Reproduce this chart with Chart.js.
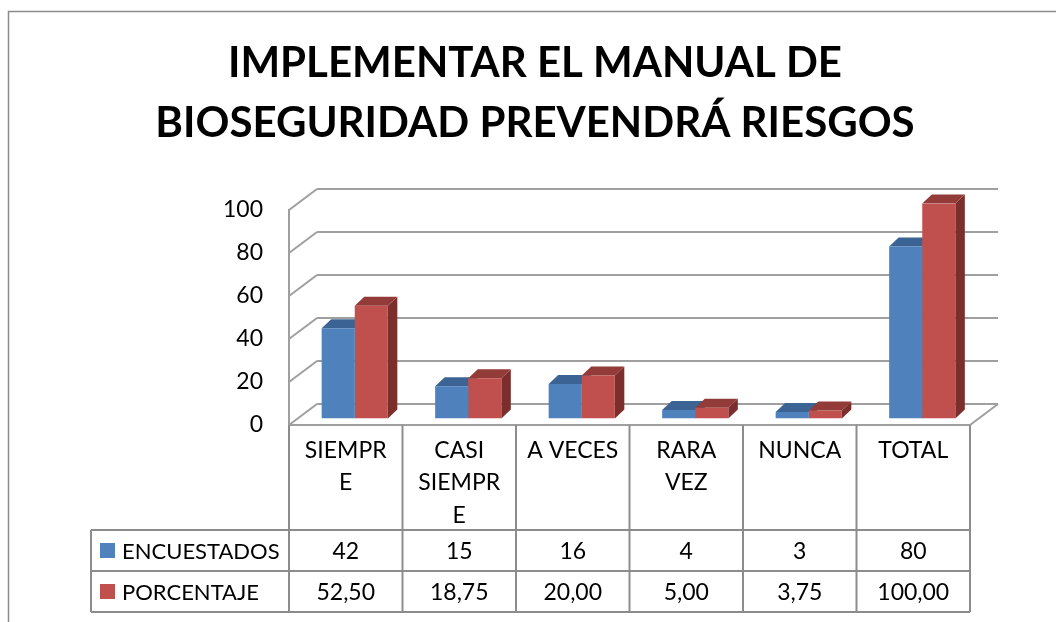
<!DOCTYPE html>
<html>
<head>
<meta charset="utf-8">
<script src="https://cdn.jsdelivr.net/npm/chart.js@4.4.1/dist/chart.umd.min.js"></script>
<style>
  html, body { margin: 0; padding: 0; background: #fff; }
  #wrap { width: 1056px; height: 622px; }
</style>
</head>
<body>
<div id="wrap"><canvas id="bioChart" width="1056" height="622"></canvas></div>
<script>
// datos
const titleLines = ["IMPLEMENTAR EL MANUAL DE", "BIOSEGURIDAD PREVENDRÁ RIESGOS"];
const categoryLabels = [["SIEMPR", "E"], ["CASI", "SIEMPR", "E"], ["A VECES"], ["RARA", "VEZ"], ["NUNCA"], ["TOTAL"]];
const seriesNames = ["ENCUESTADOS", "PORCENTAJE"];
const encuestados = [42, 15, 16, 4, 3, 80];
const porcentaje = [52.5, 18.75, 20, 5, 3.75, 100];
const yTicks = [0, 20, 40, 60, 80, 100];

// estilo
const FONT = 'Lato, "Open Sans", sans-serif';
const WALL = { dx: 28, dy: -21 };       // profundidad de las paredes
const BAR_SHIFT = { dx: 9, dy: -6.5 };  // cara frontal de las barras
const BAR_DEPTH = { dx: 9.5, dy: -9 };  // grosor de las barras
const GRID_COLOR = "#9f9f9f";
const TABLE_COLOR = "#8c8c8c";
const TABLE = { left: 91, headBottom: 530, rowH: 41 };
const faceColors = [
    { front: "#4F81BD", top: "#3B6494", side: "#2F5480" },
    { front: "#C0504D", top: "#923B39", side: "#7C2E2C" }
];

function line(ctx, x1, y1, x2, y2) {
    ctx.beginPath();
    ctx.moveTo(x1, y1);
    ctx.lineTo(x2, y2);
    ctx.stroke();
}

function poly(ctx, pts, color) {
    ctx.beginPath();
    ctx.moveTo(pts[0][0], pts[0][1]);
    pts.slice(1).forEach((p) => ctx.lineTo(p[0], p[1]));
    ctx.closePath();
    ctx.fillStyle = color;
    ctx.fill();
}

// marco y título
const framePlugin = {
    id: "framePlugin",
    beforeDraw(chart) {
        const ctx = chart.ctx;
        ctx.save();
        ctx.strokeStyle = "#8c8c8c";
        ctx.lineWidth = 1.5;
        ctx.beginPath();
        ctx.moveTo(8.5, chart.height);
        ctx.lineTo(8.5, 11.5);
        ctx.lineTo(chart.width, 11.5);
        ctx.stroke();

        ctx.fillStyle = "#000";
        ctx.font = "bold 42px " + FONT;
        ctx.textAlign = "center";
        ctx.textBaseline = "alphabetic";
        titleLines.forEach((t, i) => ctx.fillText(t, 535, 77 + i * 60));
        ctx.restore();
    }
};

// paredes, suelo y caras superiores/laterales de las barras
const wallsPlugin = {
    id: "wallsPlugin",
    beforeDatasetsDraw(chart) {
        const { ctx, chartArea: a, scales: { y } } = chart;
        ctx.save();
        ctx.strokeStyle = GRID_COLOR;
        ctx.lineWidth = 2;
        y.ticks.forEach((t) => {
            const py = y.getPixelForValue(t.value);
            line(ctx, a.left, py, a.left + WALL.dx, py + WALL.dy);
            line(ctx, a.left + WALL.dx, py + WALL.dy, a.right + WALL.dx, py + WALL.dy);
        });
        const base = y.getPixelForValue(0);
        line(ctx, a.left, base, a.right, base);
        line(ctx, a.right, base, a.right + WALL.dx, base + WALL.dy);

        const metas = chart.data.datasets.map((ds, i) => chart.getDatasetMeta(i));
        categoryLabels.forEach((_, idx) => {
            metas.forEach((meta, di) => {
                const bar = meta.data[idx];
                if (!bar) return;
                const p = bar.getProps(["x", "y", "base", "width"], true);
                const x1 = p.x - p.width / 2 + BAR_SHIFT.dx;
                const x2 = p.x + p.width / 2 + BAR_SHIFT.dx;
                const top = p.y + BAR_SHIFT.dy;
                const bot = p.base + BAR_SHIFT.dy;
                const c = faceColors[di];
                poly(ctx, [[x2, top], [x2 + BAR_DEPTH.dx, top + BAR_DEPTH.dy],
                    [x2 + BAR_DEPTH.dx, bot + BAR_DEPTH.dy], [x2, bot]], c.side);
                poly(ctx, [[x1, top], [x1 + BAR_DEPTH.dx, top + BAR_DEPTH.dy],
                    [x2 + BAR_DEPTH.dx, top + BAR_DEPTH.dy], [x2, top]], c.top);
            });
        });
        ctx.restore();

        // las caras frontales las dibuja Chart.js, desplazadas hacia el fondo
        ctx.save();
        ctx.translate(BAR_SHIFT.dx, BAR_SHIFT.dy);
    },
    afterDatasetsDraw(chart) {
        chart.ctx.restore();
    }
};

// tabla de datos bajo el gráfico
const tablePlugin = {
    id: "tablePlugin",
    afterDraw(chart) {
        const { ctx, chartArea: a, scales: { x, y } } = chart;
        const n = categoryLabels.length;
        const colW = (a.right - a.left) / n;
        const base = y.getPixelForValue(0);
        const r1 = TABLE.headBottom;
        const r2 = r1 + TABLE.rowH;
        const r3 = r2 + TABLE.rowH;

        ctx.save();
        ctx.strokeStyle = TABLE_COLOR;
        ctx.lineWidth = 2;
        for (let k = 0; k <= n; k++) {
            const px = a.left + k * colW;
            line(ctx, px, base, px, r3);
        }
        [r1, r2, r3].forEach((ry) => line(ctx, TABLE.left, ry, a.right, ry));
        line(ctx, TABLE.left, r1, TABLE.left, r3);

        ctx.fillStyle = "#000";
        ctx.textBaseline = "middle";
        const rows = [
            { name: seriesNames[0], data: chart.data.datasets[0].data, fmt: (v) => String(v) },
            { name: seriesNames[1], data: chart.data.datasets[1].data, fmt: (v) => v.toFixed(2).replace(".", ",") }
        ];
        rows.forEach((row, ri) => {
            const cy = r1 + TABLE.rowH * ri + TABLE.rowH / 2;
            ctx.fillStyle = faceColors[ri].front;
            ctx.fillRect(100, cy - 7.5, 15, 15);
            ctx.fillStyle = "#000";
            ctx.font = "22px " + FONT;
            ctx.textAlign = "left";
            ctx.fillText(row.name, 122, cy + 1);
            ctx.font = "23px " + FONT;
            ctx.textAlign = "center";
            row.data.forEach((v, i) => ctx.fillText(row.fmt(v), x.getPixelForValue(i), cy + 1));
        });
        ctx.restore();
    }
};

new Chart(document.getElementById("bioChart"), {
    type: "bar",
    data: {
        labels: categoryLabels,
        datasets: [
            {
                label: seriesNames[0],
                data: encuestados,
                backgroundColor: faceColors[0].front,
                borderWidth: 0,
                categoryPercentage: 0.583,
                barPercentage: 1
            },
            {
                label: seriesNames[1],
                data: porcentaje,
                backgroundColor: faceColors[1].front,
                borderWidth: 0,
                categoryPercentage: 0.583,
                barPercentage: 1
            }
        ]
    },
    options: {
        responsive: false,
        animation: false,
        devicePixelRatio: 1,
        layout: { padding: { top: 210, right: 86, bottom: 0, left: 0 } },
        plugins: {
            legend: { display: false },
            title: { display: false },
            tooltip: { enabled: false }
        },
        scales: {
            x: {
                grid: { display: false, drawTicks: false },
                border: { display: false },
                ticks: {
                    font: { family: FONT, size: 23, lineHeight: 1.42 },
                    color: "#000",
                    padding: 9,
                    maxRotation: 0,
                    autoSkip: false
                },
                afterFit(scale) { scale.height = 197; }
            },
            y: {
                min: 0,
                max: 100,
                grid: { display: false, drawTicks: false },
                border: { display: true, color: GRID_COLOR, width: 2 },
                ticks: {
                    font: { family: FONT, size: 23 },
                    color: "#000",
                    padding: 26
                },
                afterBuildTicks(scale) { scale.ticks = yTicks.map((v) => ({ value: v })); },
                afterFit(scale) { scale.width = 289; }
            }
        }
    },
    plugins: [framePlugin, wallsPlugin, tablePlugin]
});
</script>
</body>
</html>
